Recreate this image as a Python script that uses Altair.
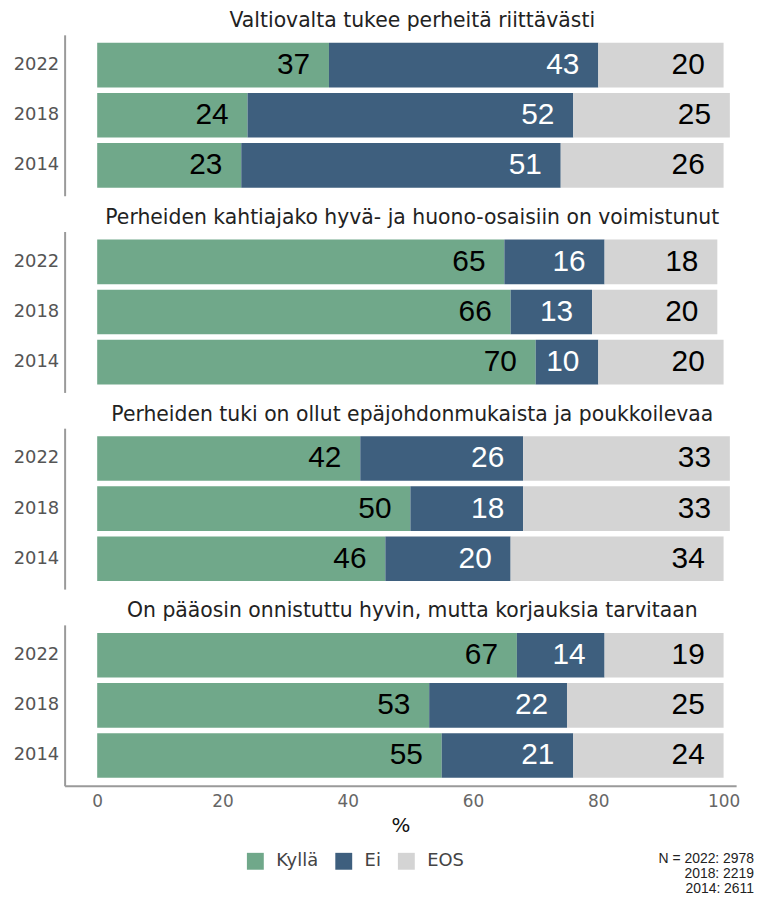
import altair as alt
import pandas as pd

questions = [
    "Valtiovalta tukee perheitä riittävästi",
    "Perheiden kahtiajako hyvä- ja huono-osaisiin on voimistunut",
    "Perheiden tuki on ollut epäjohdonmukaista ja poukkoilevaa",
    "On pääosin onnistuttu hyvin, mutta korjauksia tarvitaan",
]
years = ["2022", "2018", "2014"]
answers = ["Kyllä", "Ei", "EOS"]
kylla = [[37, 24, 23], [65, 66, 70], [42, 50, 46], [67, 53, 55]]
ei = [[43, 52, 51], [16, 13, 10], [26, 18, 20], [14, 22, 21]]
eos = [[20, 25, 26], [18, 20, 20], [33, 33, 34], [19, 25, 24]]
x_ticks = [0, 20, 40, 60, 80, 100]
colors = ["#70a88a", "#3e5f7e", "#d4d4d4"]
n_note = ["N = 2022: 2978", "2018: 2219", "2014: 2611"]

rows = []
for qi, q in enumerate(questions):
    for yi, y in enumerate(years):
        for ai, (a, vals) in enumerate(zip(answers, [kylla, ei, eos])):
            rows.append({"q": q, "year": y, "answer": a, "value": vals[qi][yi], "order": ai})
df = pd.DataFrame(rows)

FONT = "DejaVu Sans"
xscale = alt.Scale(domain=[-5.2, 102], nice=False, zero=False)
yaxis = alt.Axis(title=None, ticks=False, domain=True, domainColor="#9a9a9a", domainWidth=2,
                 labelColor="#555555", labelFontSize=18, labelFont=FONT, labelPadding=6)


def panel(i, last=False):
    base = alt.Chart(df[df.q == questions[i]]).transform_stack(
        stack="value", groupby=["year"], as_=["x0", "x1"], sort=[alt.SortField("order")]
    )
    if last:
        xaxis = alt.Axis(title="%", values=x_ticks, ticks=False, grid=False, domainColor="#9a9a9a",
                         domainWidth=2, labelColor="#666666", labelFontSize=17, labelFont=FONT,
                         labelPadding=8, titleFont=FONT, titleFontSize=20, titleFontWeight="normal",
                         titleColor="#111111", titlePadding=6)
    else:
        xaxis = None
    bars = base.mark_bar().encode(
        x=alt.X("x0:Q", scale=xscale, axis=xaxis),
        x2="x1:Q",
        y=alt.Y("year:N", sort=years, scale=alt.Scale(paddingInner=0.11, paddingOuter=0.16), axis=yaxis),
        color=alt.Color("answer:N", scale=alt.Scale(domain=answers, range=colors),
                        legend=alt.Legend(title=None, orient="none", direction="horizontal",
                                          legendX=183, legendY=823, symbolType="square",
                                          symbolSize=289, symbolStrokeWidth=0, labelFont=FONT,
                                          labelFontSize=18, labelColor="#444444", padding=0,
                                          columnPadding=16, labelOffset=12)),
    )
    text = base.mark_text(align="right", baseline="middle", dx=-19, font="Liberation Sans", fontSize=30).encode(
        x=alt.X("x1:Q"),
        y=alt.Y("year:N", sort=years),
        text="value:Q",
        color=alt.condition(alt.datum.answer == "Ei", alt.value("#ffffff"), alt.value("#000000")),
    )
    layers = [bars, text]
    if last:
        note = alt.Chart(pd.DataFrame({"t": ["\n".join(n_note)]})).mark_text(
            align="right", baseline="top", font="Liberation Sans", fontSize=14, lineBreak="\n",
            lineHeight=15, color="#222222"
        ).encode(x=alt.value(694), y=alt.value(229), text="t:N")
        layers.append(note)
    return alt.layer(*layers).properties(
        width=676, height=162,
        title=alt.TitleParams(questions[i], font=FONT, fontSize=20.5, fontWeight="normal",
                              color="#222222", anchor="middle", dx=12, offset=3),
    )


chart = alt.vconcat(*[panel(i, last=(i == 3)) for i in range(4)], spacing=12).configure_view(
    stroke=None
).properties(padding={"left": 5, "top": 0, "right": 0, "bottom": 5})

chart.save("out.html", embed_options={"renderer": "svg", "actions": False})
